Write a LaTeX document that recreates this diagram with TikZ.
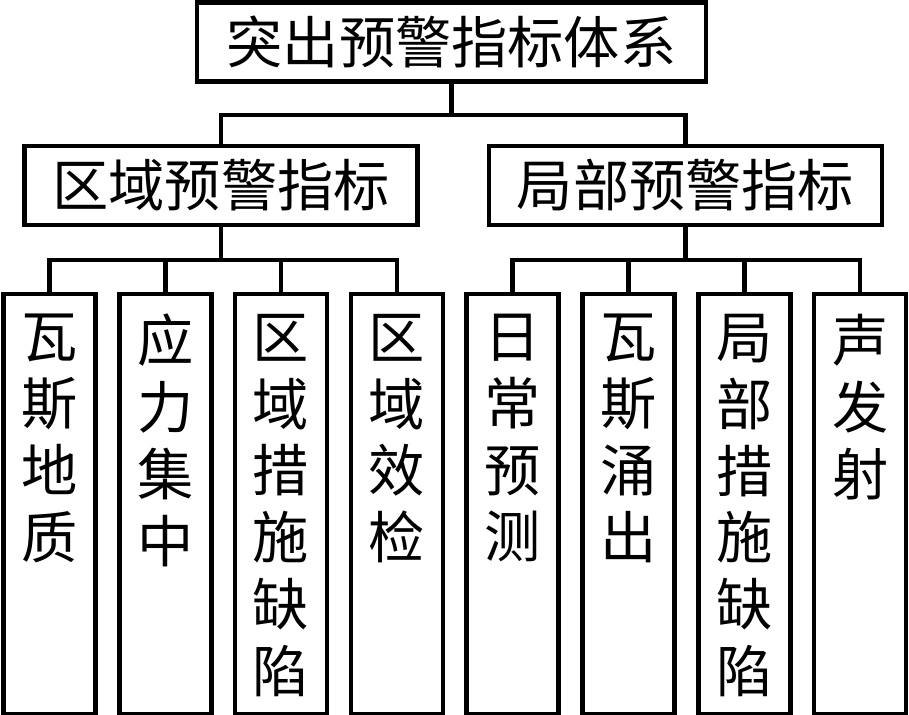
\documentclass[tikz,border=0pt]{standalone}
\usepackage{fontspec}
\newfontfamily\cjk{Noto Sans CJK SC}
\newcommand{\vtext}[1]{\parbox[c][8.4cm][t]{1.8cm}{\vspace*{0.4cm}\centering #1}}

\begin{document}
\begin{tikzpicture}[
    x=0.02cm, y=-0.02cm,
    box/.style={rectangle, draw, line width=0.09cm, inner sep=0pt, font=\cjk\fontsize{32pt}{38pt}\selectfont},
    root/.style={box, minimum width=10.18cm, minimum height=1.58cm},
    group/.style={box, minimum width=7.86cm, minimum height=1.58cm},
    leaf/.style={box, anchor=north, minimum width=1.84cm, minimum height=8.4cm},
    link/.style={draw, line width=0.09cm}
]
\useasboundingbox (0,0) rectangle (909,715);

% Top level
\node[root] (root) at (451.5,42) {突出预警指标体系};

% Second level
\node[group] (zone) at (221,185.5) {区域预警指标};
\node[group] (part) at (685.5,185.5) {局部预警指标};

% Regional indicators
\node[leaf] (l1) at (49.5,292) {\vtext{瓦\\斯\\地\\质}};
\node[leaf] (l2) at (165.3,292) {\vtext{应\\力\\集\\中}};
\node[leaf] (l3) at (281.1,292) {\vtext{区\\域\\措\\施\\缺\\陷}};
\node[leaf] (l4) at (396.9,292) {\vtext{区\\域\\效\\检}};

% Local indicators
\node[leaf] (l5) at (512.7,292) {\vtext{日\\常\\预\\测}};
\node[leaf] (l6) at (628.5,292) {\vtext{瓦\\斯\\涌\\出}};
\node[leaf] (l7) at (744.3,292) {\vtext{局\\部\\措\\施\\缺\\陷}};
\node[leaf] (l8) at (860.1,292) {\vtext{声\\发\\射}};

% Top connections
\draw[link] (root.south) -- ++(0,31.25) -| (zone.north);
\draw[link] (root.south) -- ++(0,31.25) -| (part.north);

% Lower connections
\draw[link] (zone.south) -- ++(0,32.75) -| (l1.north);
\draw[link] (zone.south) -- ++(0,32.75) -| (l2.north);
\draw[link] (zone.south) -- ++(0,32.75) -| (l3.north);
\draw[link] (zone.south) -- ++(0,32.75) -| (l4.north);
\draw[link] (part.south) -- ++(0,32.75) -| (l5.north);
\draw[link] (part.south) -- ++(0,32.75) -| (l6.north);
\draw[link] (part.south) -- ++(0,32.75) -| (l7.north);
\draw[link] (part.south) -- ++(0,32.75) -| (l8.north);

\end{tikzpicture}
\end{document}
